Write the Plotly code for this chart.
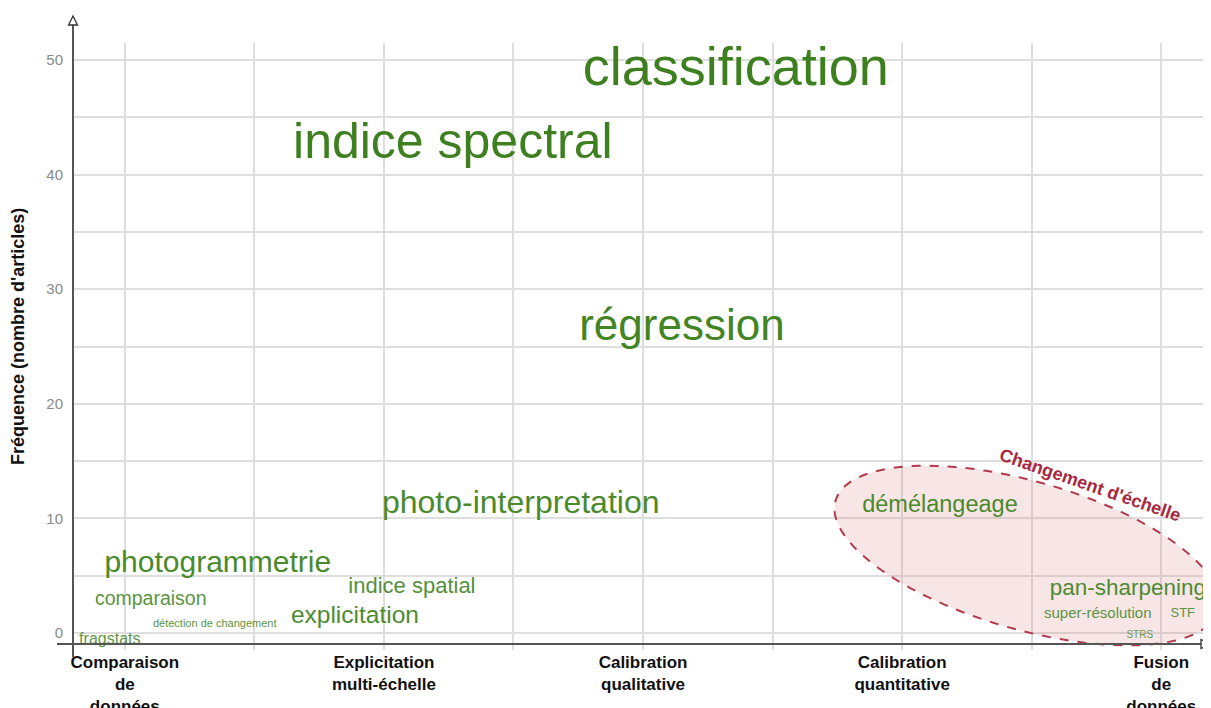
import numpy as np
import plotly.graph_objects as go

# ---------------- data ----------------
words = ["classification", "indice spectral", "régression", "photo-interpretation",
         "démélangeage", "photogrammetrie", "comparaison", "détection de changement",
         "fragstats", "indice spatial", "explicitation", "pan-sharpening",
         "super-résolution", "STF", "STRS"]
word_x = [2.358, 1.266, 2.150, 1.528, 3.146, 0.359, 0.100, 0.347,
          -0.058, 1.108, 0.888, 3.871, 3.755, 4.083, 3.917]
word_freq = [49.0, 42.5, 26.55, 11.15, 11.05, 6.0, 2.85, 0.8,
             -0.6, 4.0, 1.4, 3.85, 1.6, 1.65, -0.25]
word_size = [54, 50, 44, 32, 23.5, 30, 19.5, 11, 16, 22, 24.5, 22.5, 15, 13, 10]
word_color = ["#3e7f20", "#3e7f20", "#438424", "#4a8a2c", "#4a8a2c", "#4a8a2c",
              "#5a9442", "#5a9442", "#5f9648", "#55903c", "#4d8b32", "#4d8b32",
              "#5a9442", "#5a9442", "#6a9c52"]

categories = ["Comparaison<br>de<br>données", "Explicitation<br>multi-échelle",
              "Calibration<br>qualitative", "Calibration<br>quantitative",
              "Fusion<br>de<br>données"]
category_pos = [0, 1, 2, 3, 4]
y_ticks = [0, 10, 20, 30, 40, 50]

# ---------------- layout constants ----------------
OFF = 8                      # page body margin of the browser
W, H = 1211 - OFF, 708 - OFF
ML, MR, MT, MB = 73 - OFF, 0, 43 - OFF, 58
PW, PH = W - ML - MR, H - MT - MB
X_RANGE = [-0.2, 4.192]
Y_RANGE = [-1.48, 51.48]
SX = PW / (X_RANGE[1] - X_RANGE[0])
SY = PH / (Y_RANGE[1] - Y_RANGE[0])


def px_to_paper(px, py):
    """screen pixel -> paper coordinates"""
    return (px - OFF - ML) / PW, (H - MB - (py - OFF)) / PH


fig = go.Figure()

fig.add_trace(go.Scatter(
    x=word_x, y=word_freq, mode="text", text=words,
    textposition="middle center",
    textfont=dict(size=word_size, color=word_color,
                  family="Liberation Sans, Arial, sans-serif"),
    hoverinfo="skip", cliponaxis=False, showlegend=False))

# ellipse "Changement d'échelle" (data-space center, pixel-space axes)
ell_cx, ell_cy = 3.481, 6.76
ell_a, ell_b, ell_theta = 199, 74, np.deg2rad(16)
t = np.linspace(0, 2 * np.pi, 120)
dx_px = ell_a * np.cos(t) * np.cos(ell_theta) - ell_b * np.sin(t) * np.sin(ell_theta)
dy_px = ell_a * np.cos(t) * np.sin(ell_theta) + ell_b * np.sin(t) * np.cos(ell_theta)
ex = ell_cx + dx_px / SX
ey = ell_cy - dy_px / SY
path = "M " + " L ".join(f"{a:.4f},{b:.4f}" for a, b in zip(ex, ey)) + " Z"
fig.add_shape(type="path", path=path, xref="x", yref="y", layer="between",
              fillcolor="rgba(215,110,115,0.18)",
              line=dict(color="#b23a4c", width=2, dash="dash"))

fig.add_annotation(x=3.724, y=12.9, xref="x", yref="y", text="<b>Changement d'échelle</b>",
                   showarrow=False, textangle=19, xanchor="center", yanchor="middle",
                   font=dict(size=18, color="#a8293e", family="Liberation Sans, Arial"))

# axis lines with open arrow heads
axis_col = "#555555"
x0, y0 = px_to_paper(73, 657)
x1, y1 = px_to_paper(73, 25)
fig.add_shape(type="line", xref="paper", yref="paper", x0=x0, y0=y0, x1=x1, y1=y1,
              line=dict(color=axis_col, width=2))
ax0, ay = px_to_paper(57, 644)
ax1, _ = px_to_paper(1202, 644)
fig.add_shape(type="line", xref="paper", yref="paper", x0=ax0, y0=ay, x1=ax1, y1=ay,
              line=dict(color=axis_col, width=2))


def tri(pts):
    pp = [px_to_paper(a, b) for a, b in pts]
    return "M " + " L ".join(f"{a:.5f},{b:.5f}" for a, b in pp) + " Z"


fig.add_shape(type="path", xref="paper", yref="paper",
              path=tri([(73, 16), (68.5, 25), (77.5, 25)]),
              fillcolor="white", line=dict(color="#333333", width=1.3))
fig.add_shape(type="path", xref="paper", yref="paper",
              path=tri([(1210, 644), (1201, 639.5), (1201, 648.5)]),
              fillcolor="white", line=dict(color="#333333", width=1.3))

# y axis title
tx, ty = px_to_paper(18, 337)
fig.add_annotation(x=tx, y=ty, xref="paper", yref="paper",
                   text="<b>Fréquence (nombre d'articles)</b>", textangle=-90,
                   showarrow=False, xanchor="center", yanchor="middle",
                   font=dict(size=18, color="#111111", family="Liberation Sans, Arial"))

grid_col = "#dedede"
fig.update_layout(
    width=W, height=H,
    margin=dict(l=ML, r=MR, t=MT, b=MB, autoexpand=False),
    paper_bgcolor="white", plot_bgcolor="white",
    showlegend=False,
    xaxis=dict(range=X_RANGE, tickmode="array", tickvals=category_pos,
               ticktext=[f"<b>{c}</b>" for c in categories],
               tickfont=dict(size=17, color="#111111", family="Liberation Sans, Arial"),
               showgrid=True, gridcolor=grid_col, gridwidth=2,
               minor=dict(tickmode="linear", tick0=0.5, dtick=1, showgrid=True,
                          gridcolor=grid_col, gridwidth=2),
               zeroline=False, showline=False, ticks="", ticklabelstandoff=0,
               automargin=False, fixedrange=True),
    yaxis=dict(range=Y_RANGE, tickmode="array", tickvals=y_ticks,
               tickfont=dict(size=15, color="#8a8a8a", family="Liberation Sans, Arial"),
               showgrid=True, gridcolor=grid_col, gridwidth=2,
               minor=dict(tickmode="linear", tick0=0, dtick=5, showgrid=True,
                          gridcolor=grid_col, gridwidth=2),
               zeroline=False, showline=False, ticks="", ticklabelstandoff=9,
               automargin=False, fixedrange=True),
)

fig.write_html("out.html")
